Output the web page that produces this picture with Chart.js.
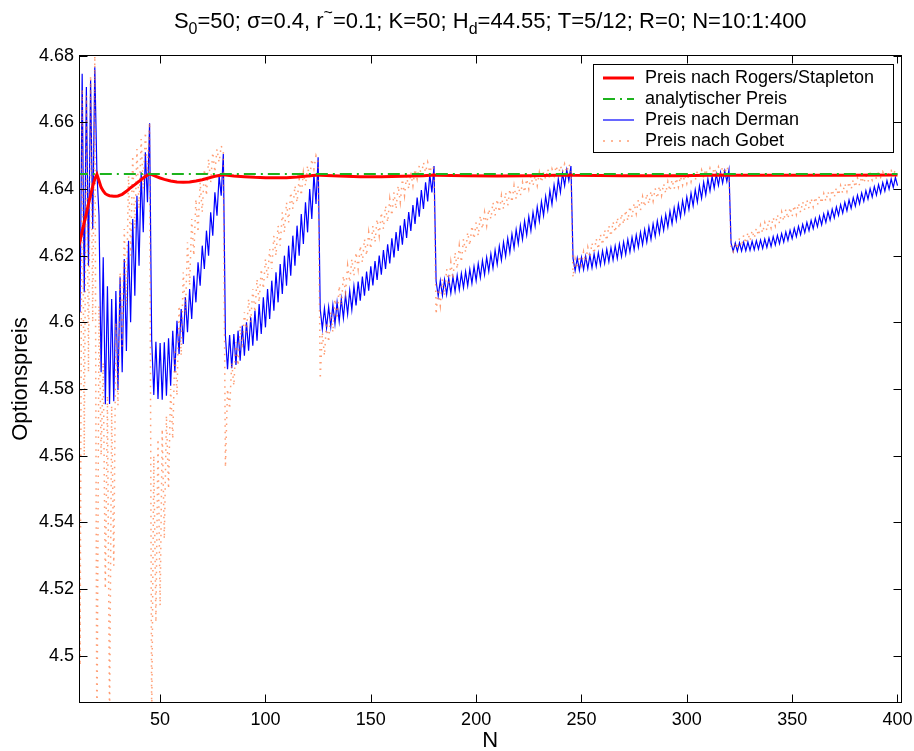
<!DOCTYPE html>
<html>
<head>
<meta charset="utf-8">
<script src="https://cdn.jsdelivr.net/npm/chart.js@4.4.0/dist/chart.umd.min.js"></script>
<style>
  html, body { margin: 0; padding: 0; background: #fff; }
  #wrap { width: 914px; height: 751px; }
</style>
</head>
<body>
<div id="wrap"><canvas id="c" width="914" height="751"></canvas></div>
<script>
// N = 10:1:400, one value per N
const firstN = 10;

// Preis nach Derman (segments end at the barrier nodes 20, 45, 80, 125, 180, 245, 320)
const dermanPrice = [
  4.598, 4.672, 4.603, 4.6746, 4.609, 4.6706, 4.617, 4.6726, 4.628, 4.6765, 4.645,
  4.632, 4.585, 4.6195, 4.5754, 4.6108, 4.5755, 4.607, 4.5763, 4.6094, 4.5797, 4.6135, 4.585, 4.619,
  4.5914, 4.6245, 4.600, 4.631, 4.608, 4.638, 4.617, 4.645, 4.627, 4.651, 4.636, 4.6597,
  4.5948, 4.5782, 4.5942, 4.5770, 4.5938, 4.5768, 4.5940, 4.5780, 4.5952, 4.5810, 4.5975, 4.5850,
  4.6005, 4.5905, 4.6040, 4.5935, 4.6075, 4.5970, 4.6100, 4.6010, 4.6140, 4.6060, 4.6180, 4.6110,
  4.6230, 4.6160, 4.6275, 4.6200, 4.6330, 4.6260, 4.6390, 4.6320, 4.6440, 4.6380, 4.6505,
  4.5960, 4.5859, 4.5962, 4.5862, 4.5965, 4.5872, 4.5975, 4.5885, 4.5990, 4.5900, 4.6000, 4.5915,
  4.6015, 4.5930, 4.6035, 4.5945, 4.6055, 4.5965, 4.6075, 4.5985, 4.6100, 4.6010, 4.6125, 4.6035,
  4.6150, 4.6060, 4.6175, 4.6085, 4.6200, 4.6110, 4.6230, 4.6140, 4.6260, 4.6170, 4.6290, 4.6200,
  4.6325, 4.6235, 4.6360, 4.6270, 4.6400, 4.6310, 4.6445, 4.6355, 4.6495,
  4.6040, 4.5980, 4.6042, 4.5983, 4.6046, 4.5988, 4.6052, 4.5995, 4.6060, 4.6003, 4.6070, 4.6013,
  4.6082, 4.6025, 4.6095, 4.6038, 4.6108, 4.6051, 4.6122, 4.6065, 4.6137, 4.6080, 4.6152, 4.6095,
  4.6168, 4.6111, 4.6184, 4.6127, 4.6200, 4.6143, 4.6217, 4.6160, 4.6234, 4.6177, 4.6252, 4.6195,
  4.6271, 4.6214, 4.6290, 4.6233, 4.6310, 4.6253, 4.6331, 4.6274, 4.6352, 4.6295, 4.6374, 4.6317,
  4.6397, 4.6340, 4.6420, 4.6363, 4.6444, 4.6390, 4.6469,
  4.6124, 4.6079, 4.6125, 4.6081, 4.6128, 4.6084, 4.6132, 4.6088, 4.6136, 4.6093, 4.6141, 4.6098,
  4.6146, 4.6104, 4.6152, 4.6110, 4.6159, 4.6117, 4.6167, 4.6125, 4.6176, 4.6134, 4.6185, 4.6143,
  4.6195, 4.6153, 4.6205, 4.6163, 4.6216, 4.6174, 4.6228, 4.6186, 4.6240, 4.6198, 4.6252, 4.6210,
  4.6265, 4.6223, 4.6278, 4.6236, 4.6291, 4.6249, 4.6304, 4.6262, 4.6317, 4.6275, 4.6330, 4.6289,
  4.6346, 4.6304, 4.6362, 4.6320, 4.6378, 4.6337, 4.6395, 4.6354, 4.6412, 4.6372, 4.6430, 4.6390,
  4.6448, 4.6410, 4.6458, 4.6425, 4.6469,
  4.6192, 4.6155, 4.6193, 4.6156, 4.6195, 4.6158, 4.6198, 4.6161, 4.6201, 4.6164, 4.6205, 4.6168,
  4.6209, 4.6172, 4.6214, 4.6177, 4.6219, 4.6182, 4.6224, 4.6187, 4.6229, 4.6192, 4.6235, 4.6198,
  4.6241, 4.6204, 4.6248, 4.6211, 4.6255, 4.6218, 4.6262, 4.6225, 4.6270, 4.6233, 4.6278, 4.6241,
  4.6286, 4.6249, 4.6295, 4.6258, 4.6304, 4.6267, 4.6313, 4.6276, 4.6323, 4.6286, 4.6333, 4.6296,
  4.6343, 4.6306, 4.6354, 4.6317, 4.6365, 4.6328, 4.6376, 4.6339, 4.6387, 4.6350, 4.6398, 4.6361,
  4.6409, 4.6372, 4.6420, 4.6383, 4.6430, 4.6394, 4.6438, 4.6403, 4.6445, 4.6411, 4.6450, 4.6418,
  4.6454, 4.6423, 4.6457,
  4.6238, 4.6213, 4.6238, 4.6213, 4.6239, 4.6214, 4.6240, 4.6215, 4.6241, 4.6216, 4.6243, 4.6218,
  4.6245, 4.6220, 4.6247, 4.6222, 4.6250, 4.6225, 4.6253, 4.6228, 4.6257, 4.6232, 4.6261, 4.6236,
  4.6266, 4.6241, 4.6271, 4.6246, 4.6276, 4.6251, 4.6282, 4.6257, 4.6288, 4.6263, 4.6294, 4.6269,
  4.6300, 4.6275, 4.6306, 4.6281, 4.6312, 4.6287, 4.6318, 4.6293, 4.6325, 4.6300, 4.6332, 4.6307,
  4.6339, 4.6314, 4.6346, 4.6321, 4.6353, 4.6328, 4.6360, 4.6335, 4.6367, 4.6342, 4.6374, 4.6349,
  4.6381, 4.6356, 4.6388, 4.6363, 4.6395, 4.6370, 4.6401, 4.6376, 4.6407, 4.6382, 4.6413, 4.6388,
  4.6419, 4.6394, 4.6425, 4.6400, 4.6430, 4.6405, 4.6435, 4.6410
];

// Preis nach Gobet
const gobetPrice = [
  4.660, 4.672, 4.497, 4.670, 4.560, 4.668, 4.585, 4.674, 4.600, 4.680, 4.470,
  4.605, 4.560, 4.588, 4.520, 4.578, 4.480, 4.575, 4.527, 4.600, 4.575, 4.615, 4.592, 4.628,
  4.605, 4.645, 4.620, 4.650, 4.628, 4.652, 4.634, 4.655, 4.640, 4.657, 4.645, 4.660,
  4.480, 4.560, 4.510, 4.565, 4.515, 4.568, 4.535, 4.572, 4.550, 4.580, 4.565, 4.592,
  4.578, 4.605, 4.590, 4.615, 4.602, 4.624, 4.611, 4.631, 4.620, 4.637, 4.627, 4.642,
  4.633, 4.646, 4.638, 4.649, 4.642, 4.651, 4.645, 4.652, 4.648, 4.653, 4.651,
  4.5565, 4.580, 4.574, 4.588, 4.581, 4.594, 4.587, 4.599, 4.592, 4.603, 4.597, 4.607,
  4.600, 4.610, 4.603, 4.613, 4.606, 4.616, 4.610, 4.619, 4.613, 4.622, 4.616, 4.626,
  4.620, 4.629, 4.623, 4.633, 4.627, 4.636, 4.630, 4.639, 4.634, 4.641, 4.636, 4.643,
  4.638, 4.645, 4.641, 4.647, 4.643, 4.649, 4.646, 4.650, 4.648,
  4.583, 4.597, 4.590, 4.600, 4.594, 4.603, 4.597, 4.607, 4.601, 4.611, 4.605, 4.614,
  4.609, 4.617, 4.612, 4.619, 4.614, 4.621, 4.616, 4.623, 4.618, 4.625, 4.620, 4.627,
  4.622, 4.629, 4.624, 4.631, 4.626, 4.633, 4.628, 4.635, 4.630, 4.637, 4.632, 4.639,
  4.634, 4.641, 4.636, 4.643, 4.638, 4.644, 4.640, 4.645, 4.641, 4.646, 4.643, 4.647,
  4.644, 4.648, 4.645, 4.648, 4.645, 4.647, 4.646,
  4.6024, 4.610, 4.605, 4.613, 4.608, 4.616, 4.611, 4.618, 4.613, 4.621, 4.616, 4.623,
  4.618, 4.625, 4.621, 4.627, 4.623, 4.629, 4.625, 4.630, 4.626, 4.632, 4.628, 4.633,
  4.629, 4.634, 4.631, 4.636, 4.632, 4.637, 4.633, 4.638, 4.634, 4.639, 4.635, 4.640,
  4.636, 4.641, 4.637, 4.641, 4.638, 4.642, 4.639, 4.643, 4.640, 4.644, 4.641, 4.644,
  4.641, 4.645, 4.642, 4.645, 4.643, 4.646, 4.643, 4.646, 4.644, 4.647, 4.644, 4.647,
  4.645, 4.6475, 4.645, 4.6475, 4.646,
  4.6135, 4.6190, 4.6162, 4.6200, 4.6172, 4.6212, 4.6182, 4.6225, 4.6194, 4.6238, 4.6206, 4.6251,
  4.6219, 4.6264, 4.6232, 4.6277, 4.6245, 4.6290, 4.6258, 4.6302, 4.6270, 4.6314, 4.6282, 4.6326,
  4.6294, 4.6337, 4.6305, 4.6348, 4.6316, 4.6358, 4.6326, 4.6368, 4.6336, 4.6377, 4.6346, 4.6386,
  4.6355, 4.6394, 4.6364, 4.6402, 4.6372, 4.6409, 4.6380, 4.6416, 4.6387, 4.6422, 4.6394, 4.6428,
  4.6400, 4.6433, 4.6406, 4.6438, 4.6412, 4.6443, 4.6417, 4.6447, 4.6422, 4.6451, 4.6426, 4.6454,
  4.6430, 4.6457, 4.6434, 4.6460, 4.6437, 4.6462, 4.6440, 4.6464, 4.6442, 4.6466, 4.6444, 4.6467,
  4.6446, 4.6468, 4.6447,
  4.6225, 4.6212, 4.6240, 4.6220, 4.6252, 4.6228, 4.6262, 4.6236, 4.6270, 4.6244, 4.6276, 4.6252,
  4.6283, 4.6260, 4.6291, 4.6268, 4.6299, 4.6276, 4.6307, 4.6283, 4.6315, 4.6290, 4.6323, 4.6297,
  4.6331, 4.6304, 4.6339, 4.6311, 4.6345, 4.6318, 4.6351, 4.6324, 4.6357, 4.6330, 4.6362, 4.6336,
  4.6367, 4.6342, 4.6372, 4.6347, 4.6376, 4.6352, 4.6380, 4.6357, 4.6386, 4.6363, 4.6392, 4.6369,
  4.6398, 4.6375, 4.6404, 4.6381, 4.6410, 4.6387, 4.6416, 4.6393, 4.6422, 4.6399, 4.6428, 4.6405,
  4.6433, 4.6411, 4.6437, 4.6417, 4.6441, 4.6422, 4.6445, 4.6427, 4.6448, 4.6431, 4.6450, 4.6435,
  4.6452, 4.6439, 4.6454, 4.6442, 4.6455, 4.6444, 4.6456, 4.6446
];

// Preis nach Rogers/Stapleton (smooth, so sampled coarser)
const rsN = [
  10, 11, 12, 13, 14, 15, 16, 17, 18, 19, 20,
  21, 22, 23, 24, 25, 26, 27, 28, 29, 30,
  32, 34, 36, 38, 40, 42, 44, 45,
  46, 48, 50, 52, 55, 58, 61, 64, 67, 70, 73, 76, 80,
  81, 85, 90, 95, 100, 105, 110, 115, 120, 125,
  126, 135, 145, 155, 165, 175, 180,
  181, 195, 210, 225, 245,
  246, 270, 295, 320,
  321, 350, 375, 400
];
const rsPrice = [
  4.6190, 4.6218, 4.6245, 4.6272, 4.6300, 4.6327, 4.6355, 4.6382, 4.6408, 4.6430, 4.6444,
  4.6425, 4.6405, 4.6394, 4.6386, 4.6382, 4.6380, 4.6379, 4.6378, 4.6378, 4.6379,
  4.6384, 4.6393, 4.6404, 4.6413, 4.6423, 4.6433, 4.6442, 4.6445,
  4.6443, 4.6438, 4.6433, 4.6429, 4.6424, 4.6421, 4.6420, 4.6421, 4.6424, 4.6428, 4.6433, 4.6438, 4.6443,
  4.6442, 4.6439, 4.6437, 4.6435, 4.6434, 4.6434, 4.6434, 4.6436, 4.6439, 4.6442,
  4.6441, 4.6439, 4.6437, 4.6437, 4.6438, 4.6440, 4.6442,
  4.6441, 4.6440, 4.6439, 4.6440, 4.6442,
  4.6441, 4.6440, 4.6440, 4.6442,
  4.6441, 4.6441, 4.6441, 4.6442
];

// analytischer Preis (constant)
const analyticPrice = 4.6445;
const analyticN = [10, 400];

const xTicks = [50, 100, 150, 200, 250, 300, 350, 400];
const yTicks = [4.5, 4.52, 4.54, 4.56, 4.58, 4.6, 4.62, 4.64, 4.66, 4.68];

const legendLabels = ['Preis nach Rogers/Stapleton', 'analytischer Preis', 'Preis nach Derman', 'Preis nach Gobet'];

const fontFamily = '"Liberation Sans", Arial, Helvetica, sans-serif';
Chart.defaults.font.family = fontFamily;
Chart.defaults.color = '#000';

const styles = {
  rs:      { color: '#ff0000', width: 3, dash: [] },
  exact:   { color: '#1db31d', width: 2, dash: [12, 5, 2, 5] },
  derman:  { color: '#0000ff', width: 1.2, dash: [] },
  gobet:   { color: 'rgba(255,115,55,0.7)', width: 1.5, dash: [1.5, 5] }
};

const seq = arr => arr.map((v, i) => ({ x: firstN + i, y: v }));

const matlabLook = {
  id: 'matlabLook',
  afterDraw(chart) {
    const { ctx, chartArea: a, scales } = chart;
    ctx.save();
    // frame
    ctx.setLineDash([]);
    ctx.strokeStyle = '#000';
    ctx.lineWidth = 1;
    const L = Math.round(a.left) + 0.5, T = Math.round(a.top) + 0.5;
    const R = Math.round(a.right) - 0.5, B = Math.round(a.bottom) - 0.5;
    ctx.strokeRect(L, T, R - L, B - T);
    // inward ticks on all four sides
    ctx.beginPath();
    xTicks.forEach(v => {
      const px = Math.round(scales.x.getPixelForValue(v)) + 0.5;
      ctx.moveTo(px, B); ctx.lineTo(px, B - 8);
      ctx.moveTo(px, T); ctx.lineTo(px, T + 8);
    });
    yTicks.forEach(v => {
      const py = Math.round(scales.y.getPixelForValue(v)) + 0.5;
      ctx.moveTo(L, py); ctx.lineTo(L + 8, py);
      ctx.moveTo(R, py); ctx.lineTo(R - 8, py);
    });
    ctx.stroke();

    // title with sub/superscripts
    const parts = [
      { t: 'S' }, { t: '0', s: 'sub' }, { t: '=50; σ=0.4, r' }, { t: '~', s: 'sup' },
      { t: '=0.1; K=50; H' }, { t: 'd', s: 'sub' }, { t: '=44.55; T=5/12; R=0; N=10:1:400' }
    ];
    const size = 22;
    const big = size + 'px ' + fontFamily, small = Math.round(size * 0.72) + 'px ' + fontFamily;
    let w = 0;
    parts.forEach(p => { ctx.font = p.s ? small : big; w += ctx.measureText(p.t).width; });
    let x = (a.left + a.right) / 2 - w / 2;
    ctx.fillStyle = '#000';
    ctx.textAlign = 'left';
    ctx.textBaseline = 'alphabetic';
    parts.forEach(p => {
      ctx.font = p.s ? small : big;
      const dy = p.s === 'sub' ? 6 : p.s === 'sup' ? -10 : 0;
      ctx.fillText(p.t, x, 28 + dy);
      x += ctx.measureText(p.t).width;
    });

    // legend box
    const lx = 593, ly = 64, lw = 300, lh = 88;
    ctx.fillStyle = '#fff';
    ctx.fillRect(lx, ly, lw, lh);
    ctx.strokeStyle = '#000';
    ctx.lineWidth = 1;
    ctx.strokeRect(lx + 0.5, ly + 0.5, lw, lh);
    const keys = ['rs', 'exact', 'derman', 'gobet'];
    ctx.font = '18px ' + fontFamily;
    ctx.textBaseline = 'middle';
    keys.forEach((k, i) => {
      const y = ly + 14 + i * 21;
      const st = styles[k];
      ctx.beginPath();
      ctx.strokeStyle = st.color;
      ctx.lineWidth = st.width;
      ctx.setLineDash(k === 'gobet' ? [2, 6] : st.dash);
      ctx.moveTo(603, y); ctx.lineTo(634, y);
      ctx.stroke();
      ctx.setLineDash([]);
      ctx.fillStyle = '#000';
      ctx.fillText(legendLabels[i], 645, y);
    });
    ctx.restore();
  }
};

new Chart(document.getElementById('c'), {
  type: 'line',
  data: {
    datasets: [
      {
        label: legendLabels[1],
        data: analyticN.map(n => ({ x: n, y: analyticPrice })),
        borderColor: styles.exact.color, borderWidth: styles.exact.width, borderDash: styles.exact.dash
      },
      {
        label: legendLabels[0],
        data: rsN.map((n, i) => ({ x: n, y: rsPrice[i] })),
        borderColor: styles.rs.color, borderWidth: styles.rs.width
      },
      {
        label: legendLabels[3],
        data: seq(gobetPrice),
        borderColor: styles.gobet.color, borderWidth: styles.gobet.width, borderDash: styles.gobet.dash
      },
      {
        label: legendLabels[2],
        data: seq(dermanPrice),
        borderColor: styles.derman.color, borderWidth: styles.derman.width
      }
    ]
  },
  options: {
    responsive: false,
    animation: false,
    devicePixelRatio: 1,
    layout: { padding: { top: 55, right: 12.5, bottom: 0, left: 0 } },
    elements: { point: { radius: 0 }, line: { tension: 0, fill: false } },
    plugins: { legend: { display: false }, tooltip: { enabled: false }, title: { display: false } },
    scales: {
      x: {
        type: 'linear', min: 11.5, max: 401.9,
        afterBuildTicks: s => { s.ticks = xTicks.map(v => ({ value: v })); },
        afterFit: s => { s.height = 48; s.paddingLeft = 0; s.paddingRight = 0; },
        grid: { display: false, drawTicks: false },
        border: { display: false },
        ticks: { padding: 6, font: { size: 18 }, color: '#000', maxRotation: 0, autoSkip: false },
        title: { display: true, text: 'N', font: { size: 22 }, color: '#000', padding: { top: 0, bottom: -3 } }
      },
      y: {
        type: 'linear', min: 4.4858, max: 4.6802,
        afterBuildTicks: s => { s.ticks = yTicks.map(v => ({ value: v })); },
        afterFit: s => { s.width = 79; s.paddingTop = 0; s.paddingBottom = 0; },
        grid: { display: false, drawTicks: false },
        border: { display: false },
        ticks: { padding: 5, font: { size: 18 }, color: '#000', callback: v => String(+v.toFixed(2)) },
        title: { display: true, text: 'Optionspreis', font: { size: 22 }, color: '#000', padding: { top: 8, bottom: 0 } }
      }
    }
  },
  plugins: [matlabLook]
});
</script>
</body>
</html>
